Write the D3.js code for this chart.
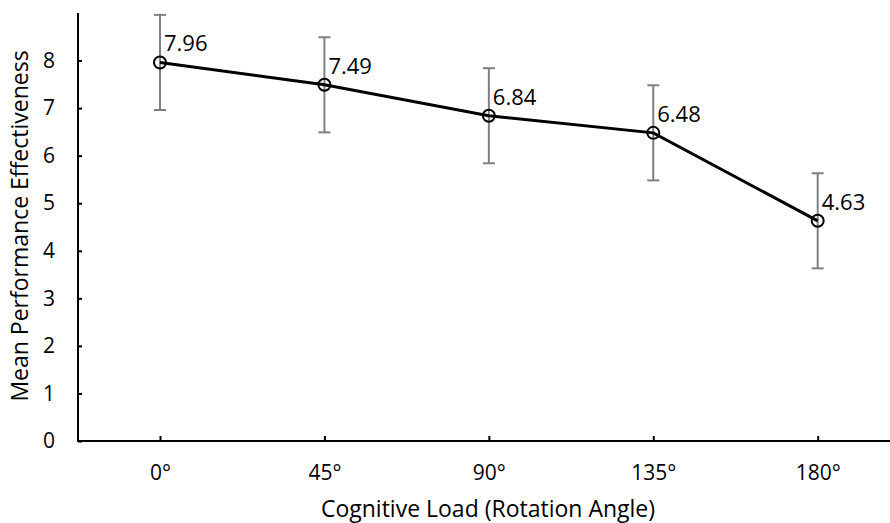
<!DOCTYPE html>
<html><head><meta charset="utf-8">
<script src="https://cdn.jsdelivr.net/npm/d3@7"></script>
<style>body{margin:0;background:#fff;}svg{display:block;font-family:"Open Sans",sans-serif;}</style>
</head><body>
<svg id="c" width="890" height="523"></svg>
<script>
const categories = ["0°","45°","90°","135°","180°"];
const values = [7.96, 7.49, 6.84, 6.48, 4.63];
const errors = [1, 1, 1, 1, 1];
const yTicks = [0,1,2,3,4,5,6,7,8];

const svg = d3.select("#c");
const x = d3.scalePoint().domain(categories).range([160, 817.7]);
const step = x.step();
const y = d3.scaleLinear().domain([0, 9]).range([441, 13]);

// axes
const yAxis = svg.append("g").attr("transform","translate(78,0)")
  .call(d3.axisLeft(y).tickValues(yTicks).tickSize(-4).tickPadding(23).tickFormat(d3.format("d")));
yAxis.select(".domain").attr("d", `M0,${y(9)}V${y(0)}`).attr("stroke","#000").attr("stroke-width",2);
yAxis.selectAll(".tick line").attr("stroke","#000").attr("stroke-width",2);
yAxis.selectAll(".tick text").attr("font-size",21).attr("fill","#000").attr("font-family","Open Sans");

const xAxis = svg.append("g").attr("transform",`translate(0,${y(0)})`)
  .call(d3.axisBottom(x).tickSize(-5).tickPadding(24));
xAxis.select(".domain").attr("d", `M77,0H${x(categories[4]) + step/2}`).attr("stroke","#000").attr("stroke-width",2);
xAxis.selectAll(".tick line").attr("stroke","#000").attr("stroke-width",2);
xAxis.selectAll(".tick text").attr("font-size",21).attr("fill","#000").attr("font-family","Open Sans");

// error bars
const eb = svg.append("g").attr("stroke","#7f7f7f").attr("stroke-width",2);
categories.forEach((c,i)=>{
  const cx = x(c);
  eb.append("line").attr("x1",cx).attr("x2",cx).attr("y1",y(values[i]+errors[i])).attr("y2",y(values[i]-errors[i]));
  eb.append("line").attr("x1",cx-6).attr("x2",cx+6).attr("y1",y(values[i]+errors[i])).attr("y2",y(values[i]+errors[i]));
  eb.append("line").attr("x1",cx-6).attr("x2",cx+6).attr("y1",y(values[i]-errors[i])).attr("y2",y(values[i]-errors[i]));
});

// line
const line = d3.line().x((d,i)=>x(categories[i])).y(d=>y(d));
svg.append("path").datum(values).attr("d",line).attr("fill","none").attr("stroke","#000").attr("stroke-width",3);

// markers
svg.append("g").selectAll("circle").data(values).join("circle")
  .attr("cx",(d,i)=>x(categories[i])).attr("cy",d=>y(d)).attr("r",6)
  .attr("fill","none").attr("stroke","#000").attr("stroke-width",2);

// labels
svg.append("g").selectAll("text").data(values).join("text")
  .attr("x",(d,i)=>x(categories[i])+4).attr("y",d=>y(d)-11)
  .attr("font-size",22).attr("fill","#000")
  .text(d=>d.toFixed(2));

// titles
svg.append("text").attr("x",488).attr("y",517).attr("text-anchor","middle")
  .attr("font-size",23).attr("fill","#000").text("Cognitive Load (Rotation Angle)");
svg.append("text").attr("transform",`translate(28,${226}) rotate(-90)`).attr("text-anchor","middle")
  .attr("font-size",23).attr("fill","#000").text("Mean Performance Effectiveness");
</script>
</body></html>
